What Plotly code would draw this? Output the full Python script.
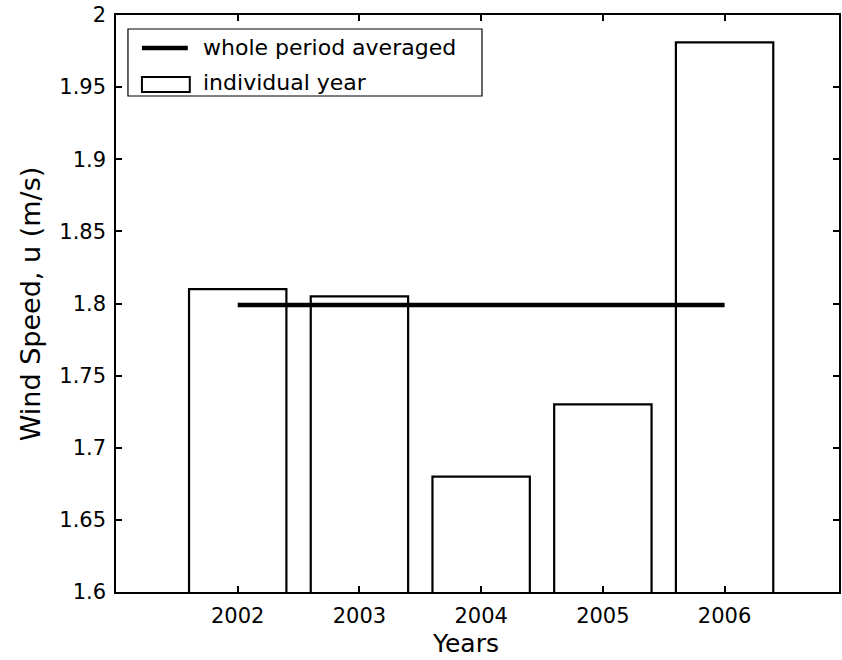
import plotly.graph_objects as go

# Annual mean wind speed per year and the whole-period average
years = [2002, 2003, 2004, 2005, 2006]
wind_speed = [1.81, 1.805, 1.68, 1.73, 1.981]
period_mean = 1.799

y_ticks = [1.6, 1.65, 1.7, 1.75, 1.8, 1.85, 1.9, 1.95, 2.0]
y_tick_labels = ["1.6", "1.65", "1.7", "1.75", "1.8", "1.85", "1.9", "1.95", "2"]

legend_labels = ["whole period averaged", "individual year"]

W, H = 842, 660
L, R, T, B = 116, 1, 15, 68
PW, PH = W - L - R, H - T - B

FONT = "DejaVu Sans"


def px(x):
    return (x - L) / PW


def py(y):
    return (H - B - y) / PH


fig = go.Figure()

fig.add_trace(go.Bar(
    x=years,
    y=wind_speed,
    width=0.8,
    marker=dict(color="white", line=dict(color="black", width=2.2)),
    name=legend_labels[1],
    showlegend=False,
))

fig.add_trace(go.Scatter(
    x=[years[0], years[-1]],
    y=[period_mean, period_mean],
    mode="lines",
    line=dict(color="black", width=4.5),
    name=legend_labels[0],
    showlegend=False,
))

# Legend box drawn in paper coordinates
shapes = [
    dict(type="rect", xref="paper", yref="paper",
         x0=px(128), x1=px(483), y0=py(96), y1=py(29),
         line=dict(color="black", width=1.2), fillcolor="white", layer="above"),
    dict(type="line", xref="paper", yref="paper",
         x0=px(142), x1=px(188), y0=py(48), y1=py(48),
         line=dict(color="black", width=4.5), layer="above"),
    dict(type="rect", xref="paper", yref="paper",
         x0=px(142), x1=px(190), y0=py(92), y1=py(77),
         line=dict(color="black", width=2), fillcolor="white", layer="above"),
]

annotations = [
    dict(text=legend_labels[0], xref="paper", yref="paper", x=px(201), y=py(48),
         xanchor="left", yanchor="middle", showarrow=False,
         font=dict(family=FONT, size=22, color="black")),
    dict(text=legend_labels[1], xref="paper", yref="paper", x=px(201), y=py(82),
         xanchor="left", yanchor="middle", showarrow=False,
         font=dict(family=FONT, size=22, color="black")),
    dict(text="Years", xref="paper", yref="paper", x=px(466), y=py(643),
         xanchor="center", yanchor="middle", showarrow=False,
         font=dict(family=FONT, size=25, color="black")),
    dict(text="Wind Speed, u (m/s)", xref="paper", yref="paper", x=px(30), y=py(304),
         xanchor="center", yanchor="middle", textangle=-90, showarrow=False,
         font=dict(family=FONT, size=27, color="black")),
]

axis_common = dict(
    showline=True, linecolor="black", linewidth=1.5, mirror="ticks",
    ticks="inside", ticklen=6, tickwidth=1.5, tickcolor="black",
    showgrid=False, zeroline=False, ticklabelstandoff=4,
    tickfont=dict(family=FONT, size=21, color="black"),
)

fig.update_layout(
    width=W, height=H,
    margin=dict(l=L, r=R, t=T, b=B, pad=0),
    paper_bgcolor="white", plot_bgcolor="white",
    bargap=0.2,
    xaxis=dict(range=[2001, 2006.94], tickvals=years,
               ticktext=[str(y) for y in years], **axis_common),
    yaxis=dict(range=[1.6, 2.0], tickvals=y_ticks, ticktext=y_tick_labels,
               **axis_common),
    shapes=shapes,
    annotations=annotations,
    showlegend=False,
)

fig.write_html("out.html")
